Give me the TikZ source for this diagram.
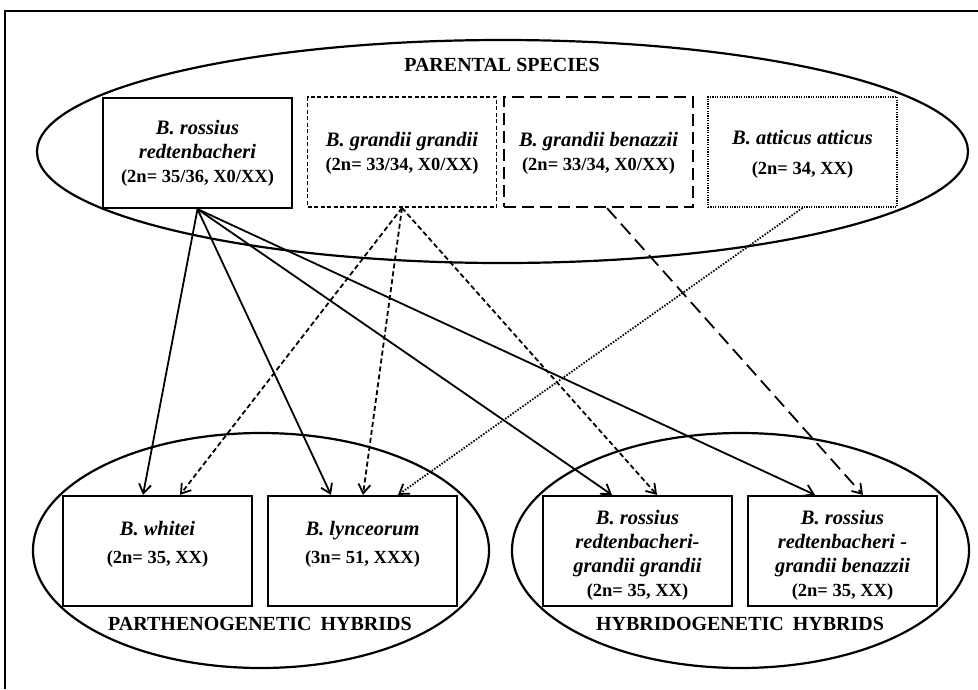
\documentclass[tikz,border=0pt]{standalone}
\usepackage{fontspec}
\setmainfont{Liberation Serif}
\usetikzlibrary{arrows.meta,shapes.geometric}
% species names: bold italic, slightly larger than the karyotype line
\newcommand{\spname}[1]{{\fontsize{20.5}{24}\selectfont\itshape #1}}

\begin{document}
\begin{tikzpicture}[x=1pt,y=-1pt,
  group/.style={draw, ellipse, line width=2.2pt, inner sep=0pt},
  spbox/.style={draw, rectangle, line width=2.2pt, minimum width=189pt,
                minimum height=110pt, inner sep=0pt},
  lbl/.style={align=center, font=\bfseries\fontsize{18.5}{24}\selectfont, inner sep=0pt},
  grouptitle/.style={font=\bfseries\fontsize{20}{24}\selectfont, inner sep=0pt},
  link/.style={line width=1.8pt, -{Straight Barb[length=9pt,width=12pt]}},
  % one line style per parental species
  rossius/.style={link},
  ggrandii/.style={link, dash pattern=on 5pt off 3pt},
  gbenazzii/.style={link, dash pattern=on 14pt off 7pt},
  atticus/.style={link, dash pattern=on 1.5pt off 1.5pt},
]
\useasboundingbox (0,0) rectangle (978,689);

% frame
\coordinate (fa) at (5,689);
\coordinate (fb) at (5,11);
\coordinate (fc) at (978,11);
\draw[line width=1.6pt] (fa) -- (fb) -- (fc);

% groups
\node[group, minimum width=931pt, minimum height=223pt] (parental) at (502.5,151.5) {};
\node[group, minimum width=456pt, minimum height=235pt] (parth) at (261,550.5) {};
\node[group, minimum width=457pt, minimum height=235pt] (hybrid) at (740.5,550.5) {};

\node[grouptitle] (tparental) at (502,65) {PARENTAL SPECIES};
\node[grouptitle] (tparth) at (260,624) {PARTHENOGENETIC\hspace{4pt} HYBRIDS};
\node[grouptitle] (thybrid) at (740,624) {HYBRIDOGENETIC\hspace{4pt} HYBRIDS};

% parental species
\node[spbox] (rr) at (197.5,153) {};
\node[spbox, line width=1.8pt, dash pattern=on 4pt off 2.5pt] (gg) at (402,152) {};
\node[spbox, dash pattern=on 12pt off 6pt] (gb) at (598.5,152) {};
\node[spbox, line width=1.8pt, dash pattern=on 1.2pt off 1.2pt] (aa) at (802.5,152) {};

\node[lbl] (lrr) at (197.5,153) {\spname{B. rossius}\\\spname{redtenbacheri}\\(2n= 35/36, X0/XX)};
\node[lbl] (lgg) at (402,153) {\spname{B. grandii grandii}\\(2n= 33/34, X0/XX)};
\node[lbl] (lgb) at (598.5,153) {\spname{B. grandii benazzii}\\(2n= 33/34, X0/XX)};
\node[lbl] (laa) at (802.5,154) {\spname{B. atticus atticus}\\[6pt](2n= 34, XX)};

% hybrids
\node[spbox] (wh) at (157.5,551) {};
\node[spbox] (ly) at (362.5,551) {};
\node[spbox] (hg) at (637.5,551) {};
\node[spbox] (hb) at (842.5,551) {};

\node[lbl] (lwh) at (157.5,544) {\spname{B. whitei}\\[4pt](2n= 35, XX)};
\node[lbl] (lly) at (362.5,544) {\spname{B. lynceorum}\\[4pt](3n= 51, XXX)};
\node[lbl] (lhg) at (637.5,555) {\spname{B. rossius}\\\spname{redtenbacheri-}\\\spname{grandii grandii}\\(2n= 35, XX)};
\node[lbl] (lhb) at (842.5,555) {\spname{B. rossius}\\\spname{redtenbacheri -}\\\spname{grandii benazzii}\\(2n= 35, XX)};

% crosses
\draw[rossius] (rr.south) -- ([xshift=-14.5pt]wh.north);
\draw[rossius] (rr.south) -- ([xshift=-31.5pt]ly.north);
\draw[rossius] (rr.south) -- ([xshift=-25.5pt]hg.north);
\draw[rossius] (rr.south) -- ([xshift=-27.5pt]hb.north);

\draw[ggrandii] (gg.south) -- ([xshift=22.5pt]wh.north);
\draw[ggrandii] (gg.south) -- ([xshift=0.5pt]ly.north);
\draw[ggrandii] (gg.south) -- ([xshift=19.5pt]hg.north);

\draw[gbenazzii] ([xshift=8.5pt]gb.south) -- ([xshift=20.5pt]hb.north);

\draw[atticus] (aa.south) -- ([xshift=35.5pt]ly.north);
\end{tikzpicture}
\end{document}
